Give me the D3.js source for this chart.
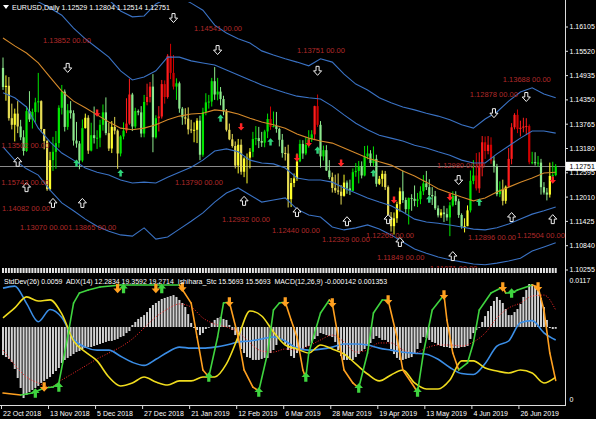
<!DOCTYPE html>
<html><head><meta charset="utf-8">
<script src="https://cdn.jsdelivr.net/npm/d3@7"></script>
<style>
html,body{margin:0;padding:0;background:#fff;}
svg{display:block;}
text{font-family:"Liberation Sans",Arial,sans-serif;}
</style></head><body>
<svg id="c" width="600" height="424"></svg>
<script>
// ---------------- DATA ----------------
const symbolTitle = "EURUSD,Daily";
const headerOHLC = "1.12529 1.12804 1.12514 1.12751";
const subTitle = "StdDev(26) 0.0059  ADX(14) 12.2834 19.3592 19.2714  Ishihara_Stc 15.5693 15.5693  MACD(12,26,9) -0.000142 0.001353";

const tickIdx = [0,16,32,48,64,80,96,112,128,144,160,176];
const tickLabels = ["22 Oct 2018","13 Nov 2018","5 Dec 2018","27 Dec 2018","21 Jan 2019","12 Feb 2019","6 Mar 2019","28 Mar 2019","19 Apr 2019","13 May 2019","4 Jun 2019","26 Jun 2019"];
const priceTicks = [1.16105,1.15520,1.14935,1.14350,1.13765,1.13180,1.12595,1.12010,1.11425,1.10840,1.10255];

const firstOpen = 1.1512;
const closes = [
1.1466,1.1469,1.1391,1.1375,1.1402,1.1371,1.1345,1.1312,1.1408,1.1388,
1.1406,1.1429,1.1432,1.1365,1.1336,1.1220,1.1290,1.1310,1.1331,1.1416,
1.1455,1.1370,1.1410,1.1403,1.1337,1.1330,1.1289,1.1367,1.1392,1.1313,
1.1350,1.1343,1.1344,1.1375,1.1405,1.1355,1.1318,1.1370,1.1361,1.1306,
1.1347,1.1361,1.1378,1.1448,1.1371,1.1408,1.1405,1.1354,1.1430,1.1442,
1.1467,1.1345,1.1391,1.1395,1.1473,1.1442,1.1541,1.1500,1.1467,1.1475,
1.1414,1.1393,1.1390,1.1364,1.1362,1.1363,1.1385,1.1303,1.1406,1.1429,
1.1431,1.1480,1.1448,1.1455,1.1437,1.1407,1.1363,1.1340,1.1324,1.1277,
1.1327,1.1262,1.1294,1.1296,1.1310,1.1341,1.1343,1.1336,1.1332,1.1359,
1.1389,1.1370,1.1372,1.1365,1.1339,1.1307,1.1306,1.1196,1.1235,1.1246,
1.1287,1.1329,1.1306,1.1327,1.1341,1.1352,1.1420,1.1375,1.1299,1.1314,
1.1265,1.1249,1.1223,1.1217,1.1214,1.1204,1.1236,1.1222,1.1216,1.1261,
1.1264,1.1275,1.1253,1.1299,1.1306,1.1283,1.1293,1.1233,1.1245,1.1257,
1.1225,1.1153,1.1131,1.1150,1.1184,1.1215,1.1194,1.1172,1.1199,1.1197,
1.1192,1.1196,1.1215,1.1234,1.1225,1.1206,1.1203,1.1174,1.1157,1.1164,
1.1160,1.1152,1.1181,1.1204,1.1191,1.1158,1.1130,1.1131,1.1169,1.1240,
1.1253,1.1222,1.1276,1.1333,1.1312,1.1327,1.1289,1.1275,1.1208,1.1219,
1.1192,1.1226,1.1293,1.1369,1.1399,1.1365,1.1368,1.1371,1.1372,1.1285,
1.1285,1.1283,1.1284,1.1225,1.1212,1.1207,1.1252,1.1254,1.12751];
const highs = [
1.1537,1.1494,1.1490,1.1426,1.1414,1.1432,1.1387,1.1362,1.1420,1.1456,
1.1414,1.1440,1.1500,1.1434,1.1365,1.1339,1.1310,1.1346,1.1360,1.1422,
1.1471,1.1460,1.1425,1.1432,1.1410,1.1382,1.1336,1.1388,1.1402,1.1398,
1.1380,1.1419,1.1362,1.1387,1.1424,1.1441,1.1380,1.1384,1.1394,1.1364,
1.1350,1.1381,1.1439,1.1486,1.1452,1.1416,1.1412,1.1420,1.1447,1.1474,
1.1478,1.1497,1.1398,1.1420,1.1483,1.1482,1.1545,1.1570,1.1543,1.1487,
1.1479,1.1418,1.1415,1.1417,1.1387,1.1381,1.1391,1.1397,1.1416,1.1451,
1.1447,1.1488,1.1514,1.1488,1.1466,1.1445,1.1413,1.1378,1.1353,1.1335,
1.1341,1.1340,1.1297,1.1306,1.1319,1.1358,1.1372,1.1370,1.1358,1.1363,
1.1402,1.1419,1.1407,1.1406,1.1368,1.1353,1.1322,1.1327,1.1247,1.1258,
1.1306,1.1339,1.1338,1.1345,1.1362,1.1362,1.1421,1.1448,1.1384,1.1325,
1.1326,1.1290,1.1260,1.1255,1.1258,1.1230,1.1255,1.1241,1.1243,1.1270,
1.1283,1.1288,1.1287,1.1324,1.1325,1.1314,1.1323,1.1303,1.1252,1.1265,
1.1264,1.1229,1.1165,1.1164,1.1190,1.1224,1.1265,1.1200,1.1200,1.1208,
1.1229,1.1211,1.1227,1.1254,1.1264,1.1244,1.1225,1.1216,1.1181,1.1172,
1.1180,1.1174,1.1189,1.1215,1.1215,1.1197,1.1162,1.1150,1.1181,1.1265,
1.1290,1.1307,1.1309,1.1348,1.1347,1.1348,1.1345,1.1299,1.1281,1.1239,
1.1243,1.1229,1.1319,1.1379,1.1403,1.1412,1.1385,1.1392,1.1391,1.1376,
1.1310,1.1309,1.1300,1.1293,1.1237,1.1223,1.1284,1.1286,1.12804];
const lows = [
1.1459,1.1433,1.1385,1.1364,1.1335,1.1355,1.1338,1.1301,1.1310,1.1382,
1.1366,1.1381,1.1405,1.1357,1.1316,1.1216,1.1217,1.1264,1.1269,1.1320,
1.1400,1.1359,1.1363,1.1390,1.1325,1.1320,1.1268,1.1285,1.1366,1.1305,
1.1311,1.1330,1.1317,1.1321,1.1361,1.1350,1.1312,1.1307,1.1352,1.1269,
1.1299,1.1340,1.1355,1.1375,1.1360,1.1366,1.1398,1.1345,1.1345,1.1422,
1.1429,1.1309,1.1342,1.1359,1.1390,1.1426,1.1438,1.1485,1.1460,1.1435,
1.1404,1.1375,1.1376,1.1352,1.1355,1.1333,1.1331,1.1290,1.1298,1.1398,
1.1414,1.1419,1.1435,1.1434,1.1422,1.1398,1.1359,1.1338,1.1320,1.1270,
1.1258,1.1255,1.1249,1.1234,1.1270,1.1297,1.1326,1.1319,1.1322,1.1321,
1.1343,1.1363,1.1369,1.1356,1.1323,1.1296,1.1289,1.1176,1.1177,1.1225,
1.1240,1.1285,1.1293,1.1302,1.1320,1.1334,1.1338,1.1370,1.1272,1.1289,
1.1264,1.1244,1.1212,1.1211,1.1207,1.1183,1.1202,1.1209,1.1206,1.1216,
1.1250,1.1234,1.1246,1.1251,1.1292,1.1276,1.1275,1.1226,1.1230,1.1226,
1.1218,1.1147,1.1118,1.1111,1.1139,1.1166,1.1187,1.1163,1.1135,1.1168,
1.1179,1.1177,1.1184,1.1206,1.1218,1.1200,1.1182,1.1170,1.1152,1.1151,
1.1141,1.1144,1.1107,1.1178,1.1182,1.1151,1.1125,1.1116,1.1131,1.1164,
1.1232,1.1217,1.1211,1.1251,1.1293,1.1304,1.1281,1.1260,1.1203,1.1201,
1.1181,1.1185,1.1225,1.1280,1.1364,1.1355,1.1347,1.1357,1.1351,1.1280,
1.1280,1.1277,1.1274,1.1207,1.1207,1.1193,1.1200,1.1238,1.12514];
// candle colour zones (run-length): g = green, y = yellow, r = red
const colorRuns = [["g",1],["y",5],["g",7],["y",4],["g",11],["y",2],["g",6],["y",4],["g",2],["r",2],["g",5],["r",2],["g",2],["r",6],["g",3],["y",5],["g",9],["y",9],["g",6],["r",1],["g",4],["y",5],["g",5],["r",2],["g",4],["y",5],["g",11],["y",8],["g",13],["y",1],["g",7],["y",2],["g",2],["r",6],["g",3],["y",2],["r",8],["g",6],["y",1],["g",2]];

// channel lines sampled every 4 bars
const bandIdx = d3.range(0,189,4);
const bandU2 = [1.1820,1.1796,1.1777,1.1760,1.1743,1.1728,1.1712,1.1700,1.1688,1.1676,1.1649,1.1635,1.1637,1.1666,1.1680,1.1683,1.1668,1.1651,1.1615,1.1596,1.1582,1.1572,1.1553,1.1543,1.1534,1.1526,1.1517,1.1534,1.1526,1.1497,1.1473,1.1459,1.1440,1.1428,1.1418,1.1411,1.1403,1.1396,1.1387,1.1375,1.1367,1.1389,1.1406,1.1432,1.1454,1.1464,1.1449,1.1440];
const bandU1 = [1.1728,1.1704,1.1685,1.1671,1.1656,1.1639,1.1608,1.1582,1.1560,1.1538,1.1505,1.1483,1.1490,1.1505,1.1538,1.1538,1.1529,1.1524,1.1519,1.1507,1.1495,1.1483,1.1471,1.1461,1.1452,1.1444,1.1440,1.1437,1.1420,1.1399,1.1379,1.1363,1.1350,1.1343,1.1336,1.1326,1.1319,1.1310,1.1302,1.1290,1.1283,1.1283,1.1305,1.1324,1.1343,1.1360,1.1360,1.1355];
const maLine = [1.1584,1.1565,1.1548,1.1524,1.1490,1.1456,1.1432,1.1416,1.1399,1.1382,1.1367,1.1363,1.1367,1.1375,1.1387,1.1396,1.1401,1.1403,1.1411,1.1408,1.1401,1.1391,1.1382,1.1375,1.1367,1.1353,1.1343,1.1336,1.1331,1.1319,1.1307,1.1295,1.1286,1.1278,1.1264,1.1252,1.1237,1.1221,1.1211,1.1201,1.1192,1.1199,1.1213,1.1225,1.1237,1.1247,1.1259,1.1261];
const bandL1 = [1.1452,1.1440,1.1418,1.1367,1.1334,1.1307,1.1290,1.1271,1.1261,1.1254,1.1242,1.1235,1.1237,1.1235,1.1249,1.1261,1.1273,1.1290,1.1312,1.1317,1.1310,1.1290,1.1283,1.1281,1.1271,1.1247,1.1242,1.1242,1.1237,1.1223,1.1211,1.1199,1.1189,1.1180,1.1165,1.1148,1.1141,1.1138,1.1134,1.1129,1.1124,1.1122,1.1127,1.1136,1.1148,1.1160,1.1168,1.1177];
const bandL2 = [1.1322,1.1290,1.1269,1.1254,1.1218,1.1187,1.1168,1.1148,1.1131,1.1119,1.1110,1.1107,1.1127,1.1100,1.1105,1.1124,1.1143,1.1163,1.1189,1.1211,1.1223,1.1206,1.1189,1.1194,1.1199,1.1172,1.1158,1.1153,1.1129,1.1122,1.1127,1.1134,1.1124,1.1110,1.1093,1.1076,1.1066,1.1057,1.1050,1.1045,1.1040,1.1038,1.1042,1.1047,1.1054,1.1071,1.1081,1.1091];

// arrows in price window
const hollowDownIdx = [22,58,73,107,155,167,178];
const hollowDownPrice = [1.1512,1.1632,1.1555,1.1505,1.1242,1.1403,1.1442];
const hollowUpIdx = [5,8,17,27,82,100,117,131,135,153,173,187];
const hollowUpPrice = [1.1286,1.1225,1.1187,1.1187,1.1192,1.1165,1.1143,1.1148,1.1093,1.1059,1.1153,1.1148];
const sigUpIdx = [25,40,74,91,107,126,145,162];
const sigUpPrice = [1.1283,1.1259,1.1391,1.1334,1.1314,1.1259,1.1196,1.1189];
const sigDnIdx = [32,81,100,104,115,133,152,187];
const sigDnPrice = [1.1403,1.1370,1.1295,1.1331,1.1283,1.1194,1.1201,1.1242];

// level labels
const lvlText = ["1.13852 00.00","1.14541 00.00","1.13751 00.00","1.13688 00.00","1.12878 00.00","1.13790 00.00","1.12932 00.00","1.12440 00.00","1.12329 00.00","1.12268 00.00","1.11849 00.00","1.12896 00.00","1.12504 00.00","1.15743 00.00","1.14082 00.00","1.13070 00.00","1.13865 00.00","1.13502 00.00","1.12980 00.00","1.11071 00.00"];
const lvlIdx = [13.6,65,100,170,158.8,58.5,74.5,91.5,108.5,123.5,127.2,158.2,174.8,-0.6,-0.3,5.8,22.2,-0.6,147.6,145.2];
const lvlPrice = [1.1579,1.1608,1.1555,1.1485,1.1449,1.1237,1.1148,1.1122,1.1100,1.1110,1.1057,1.1105,1.1110,1.1237,1.1175,1.1129,1.1129,1.1326,1.1278,1.1030];

// sub-window indicators
const macdMain = [
-0.00223,-0.00239,-0.00254,-0.00278,-0.00334,-0.00406,-0.00485,-0.00565,-0.00541,-0.00517,
-0.00501,-0.00485,-0.00469,-0.00445,-0.00429,-0.00413,-0.00398,-0.00374,-0.00350,-0.00326,
-0.00286,-0.00262,-0.00246,-0.00231,-0.00215,-0.00199,-0.00191,-0.00175,-0.00167,-0.00159,
-0.00159,-0.00151,-0.00143,-0.00135,-0.00127,-0.00119,-0.00111,-0.00111,-0.00103,-0.00095,
-0.00080,-0.00072,-0.00048,-0.00032,0.00016,0.00040,0.00064,0.00080,0.00095,0.00119,
0.00151,0.00175,0.00191,0.00207,0.00223,0.00231,0.00239,0.00246,0.00254,0.00239,
0.00215,0.00191,0.00159,0.00103,0.00032,-0.00008,-0.00024,-0.00064,-0.00048,-0.00016,
0.00000,0.00032,0.00056,0.00072,0.00080,0.00064,0.00056,0.00016,-0.00024,-0.00064,
-0.00119,-0.00175,-0.00207,-0.00239,-0.00246,-0.00262,-0.00262,-0.00262,-0.00254,-0.00246,
-0.00246,-0.00207,-0.00183,-0.00143,-0.00087,-0.00103,-0.00135,-0.00183,-0.00231,-0.00246,
-0.00207,-0.00183,-0.00175,-0.00159,-0.00151,-0.00127,-0.00095,-0.00072,-0.00048,-0.00056,
-0.00064,-0.00072,-0.00080,-0.00119,-0.00183,-0.00231,-0.00262,-0.00262,-0.00262,-0.00262,
-0.00239,-0.00215,-0.00191,-0.00175,-0.00151,-0.00127,-0.00095,-0.00072,-0.00087,-0.00103,
-0.00103,-0.00119,-0.00175,-0.00215,-0.00246,-0.00262,-0.00262,-0.00254,-0.00246,-0.00239,
-0.00215,-0.00175,-0.00127,-0.00080,-0.00087,-0.00103,-0.00119,-0.00127,-0.00143,-0.00151,
-0.00159,-0.00159,-0.00167,-0.00167,-0.00167,-0.00167,-0.00159,-0.00159,-0.00151,-0.00095,
-0.00048,-0.00024,0.00000,0.00040,0.00087,0.00127,0.00167,0.00207,0.00239,0.00215,
0.00191,0.00143,0.00095,0.00095,0.00119,0.00143,0.00183,0.00239,0.00294,0.00342,
0.00342,0.00326,0.00294,0.00231,0.00159,0.00056,-0.00008,-0.00016,-0.000142];
const macdSignal = [-0.00183,-0.00302,-0.00398,-0.00445,-0.00477,-0.00421,-0.00366,-0.00310,-0.00254,-0.00207,-0.00159,-0.00095,-0.00008,0.00080,0.00143,0.00183,0.00159,0.00072,0.00024,0.00000,-0.00040,-0.00127,-0.00191,-0.00199,-0.00175,-0.00183,-0.00151,-0.00103,-0.00064,-0.00119,-0.00199,-0.00183,-0.00127,-0.00127,-0.00183,-0.00207,-0.00167,-0.00143,-0.00143,-0.00151,-0.00119,-0.00048,0.00072,0.00151,0.00191,0.00246,0.00254,0.001353];
const stdDev = [0.0110,0.0112,0.0095,0.0077,0.0089,0.0081,0.0060,0.0052,0.0049,0.0049,0.0043,0.0037,0.0034,0.0040,0.0047,0.0052,0.0051,0.0051,0.0052,0.0054,0.0057,0.0058,0.0060,0.0062,0.0058,0.0051,0.0049,0.0050,0.0052,0.0055,0.0055,0.0054,0.0051,0.0049,0.0047,0.0046,0.0045,0.0040,0.0032,0.0026,0.0025,0.0036,0.0053,0.0058,0.0076,0.0078,0.0066,0.0059];
const adxMain = [43.9,49.2,55.1,52.9,53.5,46.0,31.6,25.7,20.9,12.3,7.5,9.1,12.3,9.6,8.0,10.2,10.2,12.3,12.3,19.3,33.7,47.6,44.9,36.4,29.4,27.3,25.1,29.4,27.3,24.6,19.3,13.9,10.2,13.4,16.0,9.1,5.9,5.9,10.7,20.9,20.9,17.1,15.5,14.4,16.0,14.4,9.1,12.28];
const stcIdx = [0,6,10,14,17,19,22,24,26,29,33,40,60,64,66,68,70,73,75,77,80,82,85,87,90,92,94,96,98,100,102,103,104,108,111,112,114,116,119,121,124,126,129,131,134,136,139,141,143,146,150,151,153,155,158,160,162,166,170,171,173,175,180,182,184,186,188];
const stcVal = [4.4,2.7,4.4,8.8,9.7,13.3,54,84,93,95.6,98.2,100,100,84,54,24.8,18.6,54,84,85,54,24.8,9.7,6.2,39.8,77.9,84,85,69,54,24.8,17.7,39.8,75.2,86.7,84,54,24.8,13.3,8.8,39.8,75.2,86.7,86.7,54,24.8,13.3,5.3,39.8,77.9,91.2,69,39.8,24.8,31,48.7,77.9,92.9,98.2,92.9,92.9,95.6,100,98.2,77.9,39.8,15.57];
const stcUpIdx = [11,19,41,54,70,87,103,121,141,173];
const stcUpVal = [4.4,9.7,97,97,18.6,5.3,18.6,8.8,5.3,92.9];
const stcDnIdx = [14,39,52,61,77,96,112,131,150,170,182];
const stcDnVal = [9.7,97,97,98,85,85,84,86.7,91.2,98.2,98.2];

// ---------------- DRAWING ----------------
const svg = d3.select("#c");
svg.append("rect").attr("x",0).attr("y",0).attr("width",596).attr("height",419).attr("fill","#000");

const x = d3.scaleLinear().domain([0,188]).range([3,555.7]);
const yP = d3.scaleLinear().domain([1.10255,1.16105]).range([270,27]);
const yStd = d3.scaleLinear().domain([0,0.0117]).range([400,281]);
const yMacd = d3.scaleLinear().domain([0,0.0035]).range([327,283]);
const yAdx = d3.scaleLinear().domain([0,63.6]).range([400,281]);
const yStc = d3.scaleLinear().domain([0,100]).range([398,285]);

const defs = svg.append("defs");
defs.append("clipPath").attr("id","cm").append("rect").attr("x",0).attr("y",2).attr("width",565).attr("height",266);
defs.append("clipPath").attr("id","cs").append("rect").attr("x",0).attr("y",274).attr("width",565).attr("height",131);

const main = svg.append("g").attr("clip-path","url(#cm)");

// current price line
const lastPrice = closes[closes.length-1];
main.append("line").attr("x1",0).attr("x2",565).attr("y1",Math.round(yP(lastPrice))+0.5).attr("y2",Math.round(yP(lastPrice))+0.5)
  .attr("stroke","#8a8a8a").attr("stroke-width",1);

// candles
const barColors = colorRuns.flatMap(([c,n])=>Array(n).fill(c));
const pal = {g:["#00e600","#8de88d"], y:["#ffff2a","#e6dc55"], r:["#ff1c1c","#d00000"]};
const bars = closes.map((c,i)=>({i, o: i ? closes[i-1] : firstOpen, c, h: highs[i], l: lows[i], k: barColors[i] || "g"}));
const cg = main.append("g");
bars.forEach(b=>{
  const col = pal[b.k][b.c >= b.o ? 0 : 1];
  const cx = x(b.i);
  cg.append("line").attr("x1",cx).attr("x2",cx).attr("y1",yP(b.h)).attr("y2",yP(b.l)).attr("stroke",col).attr("stroke-width",1);
  const top = yP(Math.max(b.o,b.c)), bot = yP(Math.min(b.o,b.c));
  cg.append("rect").attr("x",cx-1.1).attr("width",2.2).attr("y",top).attr("height",Math.max(1,bot-top)).attr("fill",col);
});

// channel lines + MA
const bline = d3.line().x((d,k)=>x(bandIdx[k])).y(d=>yP(d));
[bandU2,bandU1,bandL1,bandL2].forEach(arr=>{
  main.append("path").attr("d",bline(arr)).attr("fill","none").attr("stroke","#3a72c4").attr("stroke-width",1.1);
});
main.append("path").attr("d",bline(maLine)).attr("fill","none").attr("stroke","#d4892a").attr("stroke-width",1.1);

// arrows
function arrowPath(s){
  return `M0,${-5*s}L${4.5*s},0L${1.7*s},0L${1.7*s},${5*s}L${-1.7*s},${5*s}L${-1.7*s},0L${-4.5*s},0Z`;
}
hollowUpIdx.forEach((ix,k)=>{
  main.append("path").attr("d",arrowPath(0.9)).attr("transform",`translate(${x(ix)},${yP(hollowUpPrice[k])})`)
    .attr("fill","#000").attr("stroke","#f2f2f2").attr("stroke-width",1);
});
hollowDownIdx.forEach((ix,k)=>{
  main.append("path").attr("d",arrowPath(0.9)).attr("transform",`translate(${x(ix)},${yP(hollowDownPrice[k])}) scale(1,-1)`)
    .attr("fill","#000").attr("stroke","#f2f2f2").attr("stroke-width",1);
});
sigUpIdx.forEach((ix,k)=>{
  main.append("path").attr("d",arrowPath(0.72)).attr("transform",`translate(${x(ix)},${yP(sigUpPrice[k])})`).attr("fill","#2fd47a");
});
sigDnIdx.forEach((ix,k)=>{
  main.append("path").attr("d",arrowPath(0.72)).attr("transform",`translate(${x(ix)},${yP(sigDnPrice[k])}) scale(1,-1)`).attr("fill","#ff2424");
});

// level labels
lvlText.forEach((t,k)=>{
  main.append("text").attr("x",x(lvlIdx[k])).attr("y",yP(lvlPrice[k])).attr("dy","0.35em")
    .attr("font-size",7.5).attr("fill","#b02a2a").text(t);
});

// separator strip
const strip = svg.append("g");
bars.forEach(b=>{
  strip.append("rect").attr("x",x(b.i)-1).attr("y",268).attr("width",2).attr("height",5).attr("fill","#e4e4e4");
});

// header
svg.append("path").attr("d","M3,5L9,5L6,9Z").attr("fill","#fff");
svg.append("text").attr("x",12).attr("y",10).attr("font-size",7.5).attr("fill","#fff")
  .attr("textLength",158).attr("lengthAdjust","spacingAndGlyphs").text(symbolTitle+"  "+headerOHLC);

// right axis (price)
svg.append("line").attr("x1",565.5).attr("x2",565.5).attr("y1",0).attr("y2",405).attr("stroke","#dcdcdc").attr("stroke-width",1);
priceTicks.forEach(p=>{
  const yy = yP(p);
  svg.append("line").attr("x1",565).attr("x2",568).attr("y1",yy).attr("y2",yy).attr("stroke","#dcdcdc");
  svg.append("text").attr("x",569.5).attr("y",yy).attr("dy","0.35em").attr("font-size",7).attr("fill","#fff").text(p.toFixed(5));
});
// current price tag
const yl = yP(lastPrice);
svg.append("rect").attr("x",566).attr("y",yl-4.5).attr("width",30).attr("height",9).attr("fill","#fff");
svg.append("text").attr("x",569.5).attr("y",yl).attr("dy","0.35em").attr("font-size",7).attr("fill","#000").text(lastPrice.toFixed(5));

// ---------- sub window ----------
const sub = svg.append("g").attr("clip-path","url(#cs)");
// MACD histogram
bars.forEach(b=>{
  const v = macdMain[b.i];
  const y0 = yMacd(0), y1 = yMacd(v);
  sub.append("rect").attr("x",x(b.i)-1).attr("width",2).attr("y",Math.min(y0,y1)).attr("height",Math.max(0.8,Math.abs(y1-y0))).attr("fill","#d2d2d2");
});
// signal (dotted red)
sub.append("path").attr("d",d3.line().x((d,k)=>x(bandIdx[k])).y(d=>yMacd(d)).curve(d3.curveMonotoneX)(macdSignal))
  .attr("fill","none").attr("stroke","#ff2a2a").attr("stroke-width",1).attr("stroke-dasharray","1,1.6");
// StdDev
sub.append("path").attr("d",d3.line().x((d,k)=>x(bandIdx[k])).y(d=>yStd(d)).curve(d3.curveMonotoneX)(stdDev))
  .attr("fill","none").attr("stroke","#3b8ee6").attr("stroke-width",1.6);
// ADX
sub.append("path").attr("d",d3.line().x((d,k)=>x(bandIdx[k])).y(d=>yAdx(d)).curve(d3.curveMonotoneX)(adxMain))
  .attr("fill","none").attr("stroke","#f0dc1e").attr("stroke-width",1.6);
// STC coloured by direction
for(let k=0;k<stcIdx.length-1;k++){
  const up = stcVal[k+1] >= stcVal[k];
  sub.append("line").attr("x1",x(stcIdx[k])).attr("y1",yStc(stcVal[k])).attr("x2",x(stcIdx[k+1])).attr("y2",yStc(stcVal[k+1]))
    .attr("stroke", up ? "#3fd43f" : "#ffa020").attr("stroke-width",1.6).attr("stroke-linecap","round");
}
stcUpIdx.forEach((ix,k)=>{
  sub.append("path").attr("d",arrowPath(0.95)).attr("transform",`translate(${x(ix)},${yStc(stcUpVal[k])})`).attr("fill","#3fd43f");
});
stcDnIdx.forEach((ix,k)=>{
  sub.append("path").attr("d",arrowPath(0.95)).attr("transform",`translate(${x(ix)},${yStc(stcDnVal[k])}) scale(1,-1)`).attr("fill","#ffa020");
});

svg.append("text").attr("x",4).attr("y",284).attr("font-size",7.5).attr("fill","#fff")
  .attr("textLength",383).attr("lengthAdjust","spacingAndGlyphs").attr("xml:space","preserve").text(subTitle);

// sub axis labels
[[0.0117,"0.0117"],[0,"0"]].forEach(([v,t])=>{
  svg.append("text").attr("x",569.5).attr("y",yStd(v)).attr("dy","0.35em").attr("font-size",7).attr("fill","#fff").text(t);
});

// bottom time axis
svg.append("line").attr("x1",0).attr("x2",566).attr("y1",405.5).attr("y2",405.5).attr("stroke","#dcdcdc");
tickIdx.forEach((ix,k)=>{
  const tx = x(ix)-1.5;
  svg.append("line").attr("x1",tx).attr("x2",tx).attr("y1",405).attr("y2",409).attr("stroke","#dcdcdc");
  svg.append("text").attr("x",tx+1.5).attr("y",415.5).attr("font-size",7).attr("fill","#fff").text(tickLabels[k]);
});
</script>
</body></html>
